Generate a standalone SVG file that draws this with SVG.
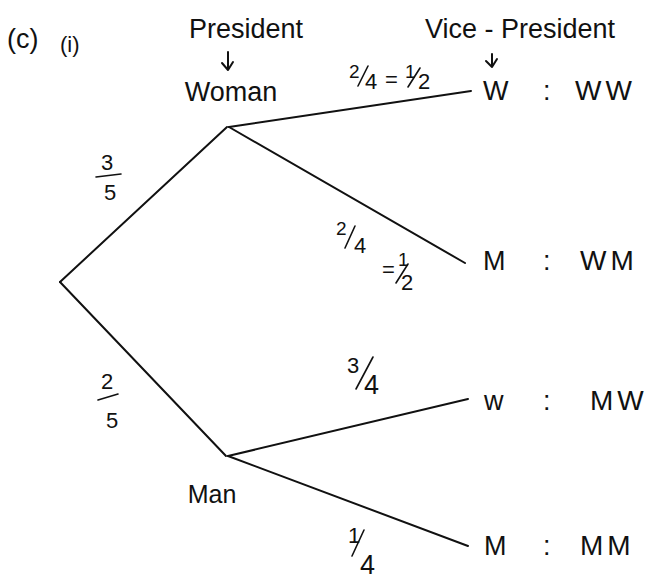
<svg xmlns="http://www.w3.org/2000/svg" width="662" height="580" viewBox="0 0 662 580">
<style>
text{font-family:"Liberation Sans","DejaVu Sans",sans-serif;fill:#111}
.h{font-size:27px}
.n{font-size:25px}
.f{font-size:22px}
.s{font-size:19px}
.p{font-size:28px;letter-spacing:4px}
.e{stroke:#111;stroke-width:2;fill:none;stroke-linecap:round;stroke-linejoin:round}
.t{stroke:#111;stroke-width:1.6;fill:none;stroke-linecap:round}
</style>
<rect width="662" height="580" fill="#fff"/>
<g id="connectors">
<line class="e" x1="60" y1="282" x2="227" y2="127"/>
<line class="e" x1="60" y1="282" x2="226" y2="456"/>
<line class="e" x1="229" y1="127" x2="471" y2="91"/>
<line class="e" x1="229" y1="127" x2="465" y2="263"/>
<line class="e" x1="228" y1="456" x2="468" y2="399"/>
<line class="e" x1="228" y1="456" x2="468" y2="546"/>
</g>
<g id="title"><text x="7" y="48" class="h">(c)</text><text x="60" y="52" class="f">(i)</text></g>
<g id="header-president">
<text x="246" y="38" class="h" text-anchor="middle">President</text>
<path class="e" d="M228 52 V70 M222 63 L228 70 L233 62"/>
</g>
<g id="header-vp">
<text x="520" y="38" class="h" text-anchor="middle">Vice - President</text>
<path class="e" d="M492 54 V67 M486 61 L492 67 L497 59"/>
</g>
<g id="root"/>
<g id="woman"><text x="231" y="101" class="h" text-anchor="middle">Woman</text></g>
<g id="man"><text x="212" y="503" class="n" text-anchor="middle">Man</text></g>
<g id="p-woman">
<text x="107" y="170" class="f" text-anchor="middle">3</text>
<line class="t" x1="96" y1="177" x2="121" y2="174"/>
<text x="110" y="200" class="f" text-anchor="middle">5</text>
</g>
<g id="p-man">
<text x="107" y="389" class="f" text-anchor="middle">2</text>
<line class="t" x1="98" y1="400" x2="118" y2="394"/>
<text x="112" y="428" class="f" text-anchor="middle">5</text>
</g>
<g id="p-ww">
<text x="349" y="78" class="s">2</text>
<line class="t" x1="358" y1="86" x2="368" y2="66"/>
<text x="365" y="89" class="f">4</text>
<text x="385" y="87" class="f">=</text>
<text x="405" y="78" class="s">1</text>
<line class="t" x1="408" y1="87" x2="420" y2="68"/>
<text x="418" y="89" class="f">2</text>
</g>
<g id="p-wm">
<text x="336" y="235" class="s">2</text>
<line class="t" x1="345" y1="248" x2="355" y2="226"/>
<text x="354" y="253" class="f">4</text>
<text x="382" y="277" class="f">=</text>
<text x="398" y="266" class="s">1</text>
<line class="t" x1="396" y1="283" x2="408" y2="264"/>
<text x="401" y="290" class="f">2</text>
</g>
<g id="p-mw">
<text x="347" y="373" class="f">3</text>
<line class="t" x1="356" y1="389" x2="373" y2="357"/>
<text x="364" y="394" class="h">4</text>
</g>
<g id="p-mm">
<text x="348" y="543" class="f">1</text>
<line class="t" x1="352" y1="556" x2="364" y2="530"/>
<text x="360" y="574" class="h">4</text>
</g>
<g id="ww"><text x="483" y="100" class="h">W</text><text x="543" y="100" class="h">:</text><text x="575" y="100" class="p">WW</text></g>
<g id="wm"><text x="483" y="270" class="h">M</text><text x="543" y="270" class="h">:</text><text x="580" y="270" class="p">WM</text></g>
<g id="mw"><text x="484" y="410" class="h">w</text><text x="543" y="410" class="h">:</text><text x="590" y="410" class="p">MW</text></g>
<g id="mm"><text x="484" y="555" class="h">M</text><text x="543" y="555" class="h">:</text><text x="580" y="555" class="p">MM</text></g>
</svg>
